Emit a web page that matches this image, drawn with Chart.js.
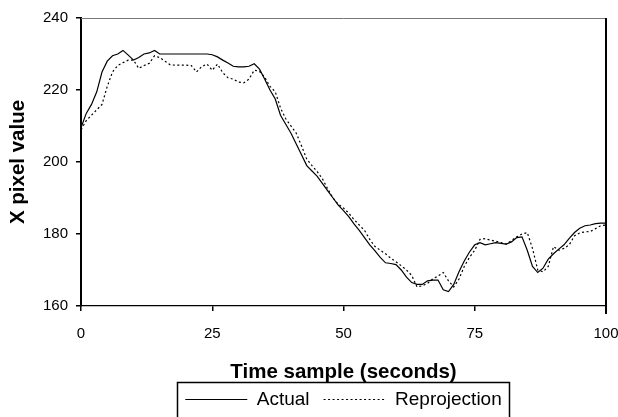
<!DOCTYPE html>
<html><head><meta charset="utf-8">
<style>html,body{margin:0;padding:0;background:#fff}#wrap{width:618px;height:417px}</style>
<script src="https://cdn.jsdelivr.net/npm/chart.js@4.4.1/dist/chart.umd.min.js"></script>
</head><body><div id="wrap"><canvas id="c" width="618" height="417"></canvas></div>
<script>
const timeSamples = [0,1,2,3,4,5,6,7,8,9,10,11,12,13,14,15,16,17,18,19,20,21,22,23,24,25,26,27,28,29,30,31,32,33,34,35,36,37,38,39,40,41,42,43,44,45,46,47,48,49,50,51,52,53,54,55,56,57,58,59,60,61,62,63,64,65,66,67,68,69,70,71,72,73,74,75,76,77,78,79,80,81,82,83,84,85,86,87,88,89,90,91,92,93,94,95,96,97,98,99,100];
const actual = [209.5,213.5,216,219.5,225,228,229.5,230,231,229.7,228.3,229,230,230.3,231,230,230,230,230,230,230,230,230,230,230,229.8,229.2,228.3,227.5,226.6,226.4,226.4,226.6,227.3,225.8,223,220,217.5,213,210.5,208,205,202,199,197.5,196,194,192,190,188,186.5,184.8,182.8,181,179,177,175.3,173.5,172,171.8,171.5,170,168,166.5,166,166,167,167.2,167.2,164.5,164,166,169.5,172.5,175,177,177.6,177,177.3,177.6,177.4,177.2,177.8,179,179.2,175.5,171,169.3,170.5,173,174.5,175.8,177,178.8,180.4,181.6,182.3,182.5,182.9,183,183];
const reprojection = [209,211.5,213,214.5,216,221,225,226.8,227.6,228.3,228.3,226,226.8,227.4,229.5,229,228,227,226.9,226.9,226.9,226.8,225,226.5,227.2,225.5,227.2,224.8,223.4,223,222.2,222,223,225.5,225.2,223.5,221,219.5,215,212,210,208,204.5,200.8,199,197.3,195.3,192.5,190,188.3,187.2,185.8,184,182.5,181,178.5,176.5,175.5,174.5,173.3,172.3,171.2,170,168.5,165.3,165.6,166.3,167.5,168.3,169.3,167,165.3,167.5,171,173.5,175.5,178.5,178.7,178.3,178,177.6,177.2,178.2,179.2,180,180.4,176,170,169.5,171,176.5,175.5,176,177,179.5,180.3,180.6,180.7,181.5,182.3,182.5];
const seriesNames = ['Actual', 'Reprojection'];
const xTitle = 'Time sample (seconds)';
const yTitle = 'X pixel value';

const FONT = "'Liberation Sans', Arial, sans-serif";

const framePlugin = {
  id: 'frame',
  afterDraw(chart) {
    const {ctx, chartArea: a} = chart;
    ctx.save();
    ctx.strokeStyle = '#777';
    ctx.lineWidth = 1;
    ctx.beginPath();
    ctx.moveTo(a.left, a.top + 0.5);
    ctx.lineTo(a.right, a.top + 0.5);
    ctx.stroke();
    ctx.strokeStyle = '#000';
    ctx.lineWidth = 2;
    ctx.beginPath();
    ctx.moveTo(a.right, a.top);
    ctx.lineTo(a.right, a.bottom + 8);
    ctx.stroke();
    const hb = chart.legend.legendHitBoxes;
    let l = Infinity, r = -Infinity, t = Infinity;
    hb.forEach(h => { l = Math.min(l, h.left); r = Math.max(r, h.left + h.width); t = Math.min(t, h.top); });
    ctx.lineWidth = 1.5;
    ctx.strokeRect(Math.round(l - 8) + 0.5, Math.round(t - 8) + 0.5, Math.round(r - l + 16), 60);
    ctx.restore();
  }
};

new Chart(document.getElementById('c'), {
  type: 'line',
  data: {
    datasets: [
      {
        label: seriesNames[0],
        data: timeSamples.map((t, i) => ({x: t, y: actual[i]})),
        borderColor: '#000',
        borderWidth: 1.2,
        pointRadius: 0,
        tension: 0,
        fill: false
      },
      {
        label: seriesNames[1],
        data: timeSamples.map((t, i) => ({x: t, y: reprojection[i]})),
        borderColor: '#000',
        borderWidth: 1.2,
        borderDash: [2, 2.5],
        pointRadius: 0,
        tension: 0,
        fill: false
      }
    ]
  },
  options: {
    responsive: false,
    animation: false,
    devicePixelRatio: 1,
    layout: {padding: {top: 18, right: 12, bottom: -2, left: 0}},
    scales: {
      x: {
        type: 'linear',
        min: 0, max: 100,
        afterFit: s => { s.height = 70; s.paddingRight = 12; s.paddingLeft = 0; },
        ticks: {stepSize: 25, padding: 14, color: '#000', font: {family: FONT, size: 15}, maxRotation: 0},
        grid: {display: true, drawOnChartArea: false, drawTicks: true, tickLength: 5, color: '#000', lineWidth: 1.5},
        border: {display: true, color: '#000', width: 1.3},
        title: {display: true, text: xTitle, color: '#000', font: {family: FONT, size: 20.5, weight: 'bold', lineHeight: '4px'}, padding: {top: 0, bottom: 2}}
      },
      y: {
        min: 160, max: 240,
        afterFit: s => { s.width = 81; },
        ticks: {stepSize: 20, padding: 8, color: '#000', font: {family: FONT, size: 15}},
        grid: {display: true, drawOnChartArea: false, drawTicks: true, tickLength: 5, color: '#000', lineWidth: 1.5},
        border: {display: true, color: '#000', width: 2},
        title: {display: true, text: yTitle, color: '#000', font: {family: FONT, size: 20.5, weight: 'bold'}, padding: {top: 6, bottom: 0}}
      }
    },
    plugins: {
      legend: {
        position: 'bottom',
        fullSize: false,
        labels: {
          usePointStyle: true,
          pointStyle: 'line',
          pointStyleWidth: 62,
          padding: 14,
          color: '#000',
          font: {family: FONT, size: 19},
          generateLabels(chart) {
            const items = Chart.defaults.plugins.legend.labels.generateLabels(chart);
            items.forEach(it => {
              const ds = chart.data.datasets[it.datasetIndex];
              it.lineDash = ds.borderDash || [];
              it.lineWidth = ds.borderWidth;
              it.strokeStyle = ds.borderColor;
            });
            return items;
          }
        }
      },
      tooltip: {enabled: false}
    }
  },
  plugins: [framePlugin]
});
</script>
</body></html>
